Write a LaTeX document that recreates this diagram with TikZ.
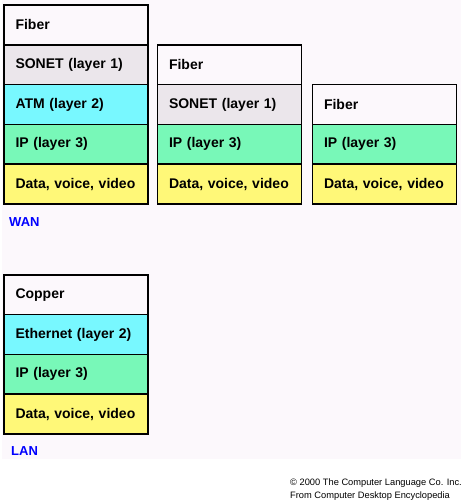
\documentclass[tikz,border=0pt]{standalone}
\usepackage{fontspec}
\setmainfont{Liberation Sans}
\usepackage{tikz}
\usetikzlibrary{positioning}
\usepackage{xcolor}
\definecolor{bgpink}{RGB}{252,248,252}
\definecolor{sonetgray}{RGB}{235,230,235}
\definecolor{atmcyan}{RGB}{120,248,255}
\definecolor{ipgreen}{RGB}{120,248,184}
\definecolor{datayellow}{RGB}{255,248,120}
\definecolor{netblue}{RGB}{0,0,255}
\tikzstyle{layer} = [draw, line width=1.5pt, outer sep=0pt, minimum height=39.8pt, text width=121pt, inner xsep=11.5pt, align=left, font=\fontsize{14}{16}\selectfont\bfseries]
\tikzstyle{netlabel} = [anchor=west, inner sep=0pt, text=netblue, font=\fontsize{13}{14}\selectfont\bfseries]
\tikzstyle{credit} = [anchor=west, inner sep=0pt, font=\fontsize{9.3}{11}\selectfont]

\begin{document}
\begin{tikzpicture}[x=1pt, y=-1pt]
\useasboundingbox (0,0) rectangle (463,502);
\fill[bgpink] (2,0) rectangle (461,459);
% WAN with ATM over SONET
\node[layer, fill=datayellow, anchor=south west] (dataA) at (4,204) {Data, voice, video};
\node[layer, fill=ipgreen, above=0pt of dataA] (ipA) {IP (layer 3)};
\node[layer, fill=atmcyan, above=0pt of ipA] (atmA) {ATM (layer 2)};
\node[layer, fill=sonetgray, above=0pt of atmA] (sonetA) {SONET (layer 1)};
\node[layer, fill=bgpink, above=0pt of sonetA] (fiberA) {Fiber};
% WAN with IP over SONET
\node[layer, fill=datayellow, anchor=south west] (dataB) at (157.5,204) {Data, voice, video};
\node[layer, fill=ipgreen, above=0pt of dataB] (ipB) {IP (layer 3)};
\node[layer, fill=sonetgray, above=0pt of ipB] (sonetB) {SONET (layer 1)};
\node[layer, fill=bgpink, above=0pt of sonetB] (fiberB) {Fiber};
% WAN with IP over fiber
\node[layer, fill=datayellow, anchor=south west] (dataC) at (312.5,204) {Data, voice, video};
\node[layer, fill=ipgreen, above=0pt of dataC] (ipC) {IP (layer 3)};
\node[layer, fill=bgpink, above=0pt of ipC] (fiberC) {Fiber};
\node[netlabel] (wan) at (9,222) {WAN};
% LAN
\node[layer, fill=datayellow, anchor=south west] (dataL) at (4,434) {Data, voice, video};
\node[layer, fill=ipgreen, above=0pt of dataL] (ipL) {IP (layer 3)};
\node[layer, fill=atmcyan, above=0pt of ipL] (ethL) {Ethernet (layer 2)};
\node[layer, fill=bgpink, above=0pt of ethL] (copperL) {Copper};
\node[netlabel] (lan) at (11,451) {LAN};
% credits
\node[credit] (copy) at (290,483) {\textcopyright\ 2000 The Computer Language Co. Inc.};
\node[credit] (source) at (290,496) {From Computer Desktop Encyclopedia};
\end{tikzpicture}
\end{document}
